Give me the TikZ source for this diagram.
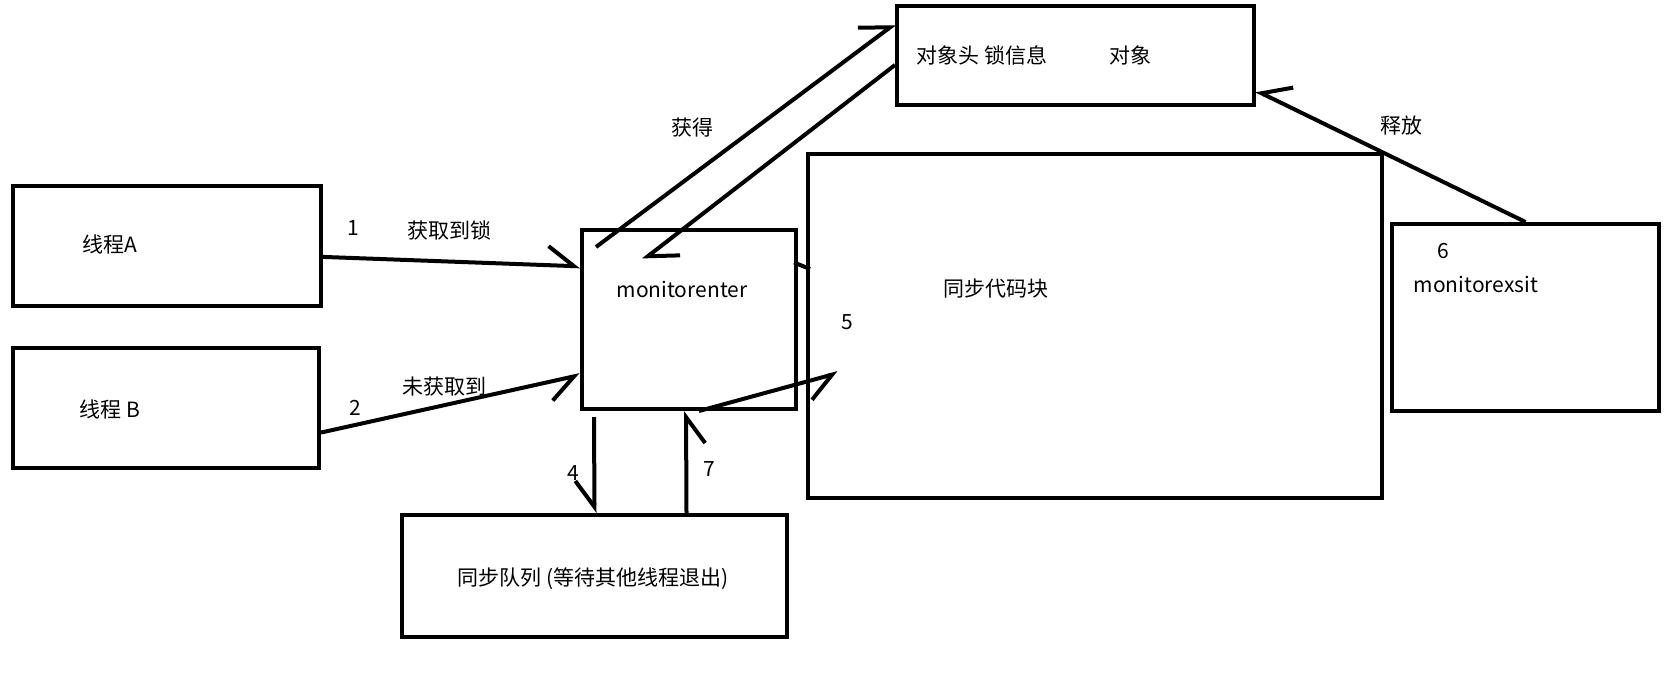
\documentclass[tikz,border=0pt]{standalone}
\usepackage{fontspec}
\setmainfont{Noto Sans CJK SC}
\usetikzlibrary{positioning,calc}
\usetikzlibrary{arrows.meta}
\tikzset{
	box/.style={draw=black,line width=4pt,inner sep=0pt},
	lbl/.style={inner sep=1pt,font=\fontsize{21}{24}\selectfont},
	arr/.style={draw=black,line width=4pt,-{Straight Barb[left,length=26pt,width=38pt]}},
	arrs/.style={draw=black,line width=4pt,-{Straight Barb[right,length=26pt,width=38pt]}},
}

\begin{document}
\begin{tikzpicture}[x=1pt,y=-1pt]
	\useasboundingbox (0,0) rectangle (1678,681);
	% boxes
	\node[box,minimum width=308pt,minimum height=120pt] (thrA) at (167,246) {};
	\node[box,minimum width=306pt,minimum height=120pt] (thrB) at (166,408) {};
	\node[box,minimum width=214pt,minimum height=179pt] (me) at (689,319.5) {};
	\node[box,minimum width=357pt,minimum height=99pt] (obj) at (1075.5,55.5) {};
	\node[box,minimum width=574pt,minimum height=344pt] (sync) at (1095,326) {};
	\node[box,minimum width=267pt,minimum height=187pt] (mexit) at (1525.5,317.5) {};
	\node[box,minimum width=385pt,minimum height=122pt] (queue) at (594.5,576) {};
	% texts
	\node[lbl] (lblA) at (110,244) {线程A};
	\node[lbl] (lblB) at (110,409) {线程 B};
	\node[lbl] (tA) at (449,230) {获取到锁};
	\node[lbl] (tB) at (444,387) {未获取到};
	\node[lbl] (tGet) at (692,128) {获得};
	\node[lbl] (tObjH) at (982,55) {对象头 锁信息};
	\node[lbl] (tObj) at (1130,55) {对象};
	\node[lbl] (tMe) at (682,289) {monitorenter};
	\node[lbl] (tSync) at (996,289) {同步代码块};
	\node[lbl] (tExit) at (1476,284) {monitorexsit};
	\node[lbl] (tRel) at (1401,126) {释放};
	\node[lbl] (tQ) at (593,579) {同步队列 (等待其他线程退出)};
	\foreach \n/\x/\y in {1/353/228,2/355/408,4/573/473,5/847/322,6/1443/251,7/709/469}
	\node[lbl] (n\n) at (\x,\y) {\n};
	% connectors
	\draw[arr] (thrA.-4) -- (me.154);
	\draw[arrs] (thrB.-9) -- (me.207);
	\draw[arr] ($(me.north west)+(16,19)$) -- (obj.170);
	\draw[arr] (obj.183) -- ($(me.north west)+(63,32)$);
	\draw[line width=4pt] ($(me.east)+(-4,-57)$) -- ($(sync.west)+(4,-57)$);
	\draw[arrs] ($(me.south)+(10,0)$) -- ($(sync.west)+(32,47)$);
	\draw[arrs] ($(queue.north)+(92,0)$) -- ($(me.south)+(-3,0)$);
	\draw[arrs] ($(me.south)+(-95,6)$) -- (queue.north);
	\draw[arrs] (mexit.north) -- (obj.-11);
\end{tikzpicture}
\end{document}
